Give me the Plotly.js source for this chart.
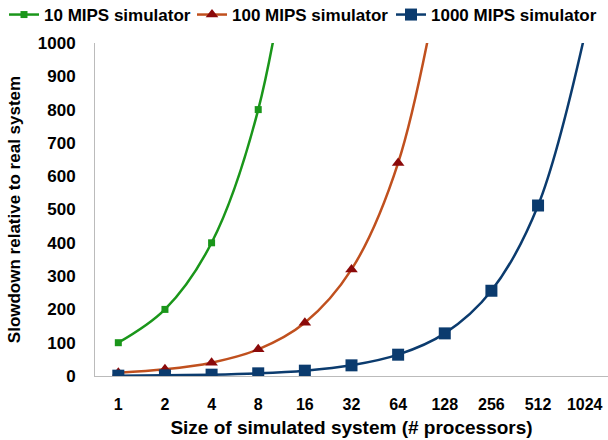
<!DOCTYPE html>
<html><head><meta charset="utf-8">
<script src="https://cdn.plot.ly/plotly-3.0.1.min.js"></script>
<style>body{margin:0;background:#fff}#c{width:608px;height:440px}</style>
</head><body><div id="c"></div>
<script>
const categories = ["1","2","4","8","16","32","64","128","256","512","1024"];
const mips10 = [100,200,400,800,1600];
const mips100 = [10,20,40,80,160,320,640,1280];
const mips1000 = [1,2,4,8,16,32,64,128,256,512,1024];
const names = ["10 MIPS simulator","100 MIPS simulator","1000 MIPS simulator"];

const F = "Liberation Sans, Arial, sans-serif";
const traces = [
  {x: categories.slice(0, mips10.length), y: mips10, name: names[0], mode: "lines+markers", legend: "legend",
   line: {color: "#1a961a", width: 2.5, shape: "spline"}, marker: {symbol: "square", size: 7, color: "#1a961a"}},
  {x: categories.slice(0, mips100.length), y: mips100, name: names[1], mode: "lines+markers", legend: "legend2",
   line: {color: "#c0501e", width: 2.5, shape: "spline"}, marker: {symbol: "triangle-up", size: 11, color: "#8b0a0a"}},
  {x: categories, y: mips1000, name: names[2], mode: "lines+markers", legend: "legend3",
   line: {color: "#0b3b6e", width: 2.5, shape: "spline"}, marker: {symbol: "square", size: 12, color: "#0b3b6e"}}
];
function leg(x) {
  return {orientation: "h", x: x, xref: "container", xanchor: "left", y: 1 - 15/440, yanchor: "middle", yref: "container",
          font: {family: F, size: 17, color: "#000", weight: "bold"}, itemwidth: 30, bgcolor: "rgba(0,0,0,0)"};
}
const layout = {
  width: 608, height: 440,
  margin: {l: 95, r: 0, t: 43, b: 64},
  paper_bgcolor: "#fff", plot_bgcolor: "#fff",
  font: {family: F, size: 13, color: "#000"},
  showlegend: true,
  legend: leg(4/608), legend2: leg(192/608), legend3: leg(391/608),
  xaxis: {type: "category", range: [-0.5, 10.5], showgrid: false, zeroline: false, showline: true, linecolor: "#bbb", linewidth: 1,
          ticks: "", ticklabelstandoff: 14, tickfont: {family: F, size: 16, weight: "bold"},
          title: {text: "Size of simulated system (# processors)", font: {family: F, size: 19, weight: "bold"}, standoff: 8}},
  yaxis: {range: [0, 1000], dtick: 100, showgrid: false, zeroline: false, showline: true, linecolor: "#bbb", linewidth: 1,
          ticks: "", ticklabelstandoff: 15, tickfont: {family: F, size: 17, weight: "bold"},
          title: {text: "Slowdown relative to real system", font: {family: F, size: 17, weight: "bold"}, standoff: 12}}
};
Plotly.newPlot("c", traces, layout, {displayModeBar: false});
</script></body></html>
